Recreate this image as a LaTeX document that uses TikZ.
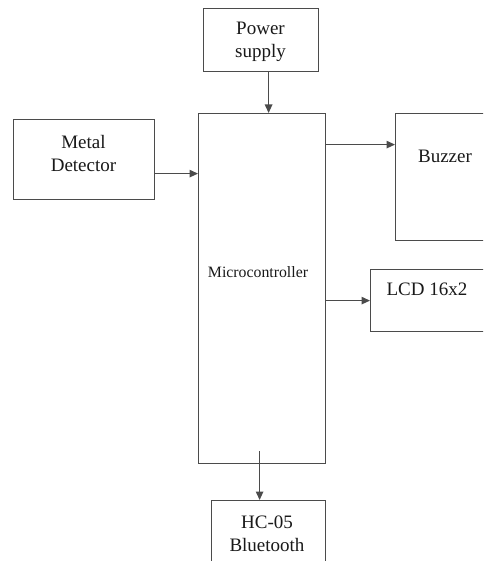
\documentclass[tikz,border=0pt]{standalone}
\usepackage{fontspec}
\setmainfont{Liberation Serif}
\usetikzlibrary{positioning,arrows.meta}
\definecolor{lineg}{RGB}{75,75,75}
\definecolor{textg}{RGB}{25,25,25}

\begin{document}
\begin{tikzpicture}[
  x=1pt, y=-1pt,
  >={Triangle[length=8.5pt, width=7.5pt]},
  blk/.style={draw=lineg, line width=1.2pt, fill=white, anchor=north west, inner sep=0pt},
  txt/.style={font=\fontsize{19}{23}\selectfont, text=textg, align=center, inner sep=0pt},
  smalltxt/.style={font=\fontsize{15.8}{18}\selectfont, text=textg, inner sep=0pt},
  flow/.style={->, draw=lineg, line width=1.2pt},
]
\useasboundingbox (0,0) rectangle (483,561);
\clip (0,0) rectangle (483,561);

% ---- blocks ----
\node[blk, minimum width=127pt, minimum height=350pt] (mc) at (198,113) {};
\node[blk, minimum width=115pt, minimum height=63pt] (ps) at (203,8) {};
\node[blk, minimum width=141pt, minimum height=80pt] (md) at (13,119) {};
\node[blk, minimum width=110pt, minimum height=127pt] (bz) at (395,113) {};
\node[blk, minimum width=130pt, minimum height=62pt] (lcd) at (370,269) {};
\node[blk, minimum width=114pt, minimum height=80pt] (hc) at (211,500) {};

% ---- texts ----
\node[smalltxt] (mctext) at (258,272) {Microcontroller};
\node[txt] (pstext) at (260.5,42) {Power\\supply};
\node[txt] (mdtext) at (83.5,154) {Metal\\Detector};
\node[txt, anchor=base] (bztext) at (445,163) {Buzzer};
\node[txt, anchor=base] (lcdtext) at (427,295) {LCD 16x2};
\node[txt] (hctext) at (267,533.5) {HC-05\\Bluetooth};

% ---- connectors ----
\draw[flow] ([xshift=7.5pt]ps.south) -- ([xshift=7.5pt]ps.south |- mc.north);
\draw[flow] ([yshift=-14pt]md.east) -- ([yshift=-14pt]md.east -| mc.west);
\draw[flow] ([yshift=32.5pt]bz.west -| mc.east) -- ([yshift=32.5pt]bz.west);
\draw[flow] (lcd.west -| mc.east) -- (lcd.west);
\coordinate (btstart) at ([xshift=-9pt]hc.north |- mc.south);
\draw[flow] ([yshift=13pt]btstart) -- ([xshift=-9pt]hc.north);

\end{tikzpicture}
\end{document}
